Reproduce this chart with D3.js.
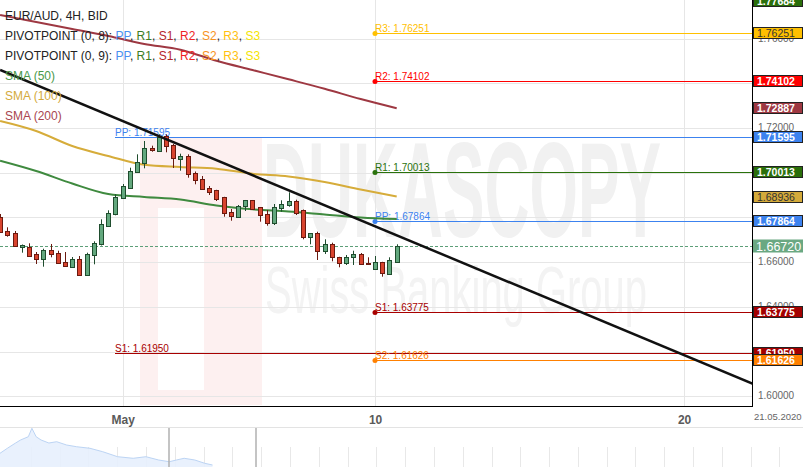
<!DOCTYPE html>
<html><head><meta charset="utf-8">
<script src="https://cdn.jsdelivr.net/npm/d3@7"></script>
<style>
html,body{margin:0;padding:0;background:#fff;overflow:hidden;}
svg{display:block;font-family:"Liberation Sans",Arial,sans-serif;}
</style></head><body>
<svg id="c" width="803" height="467"></svg>
<script>
// ---------- DATA ----------
const candleOpen  = [1.68034,1.67395,1.67292,1.66666,1.66693,1.66367,1.66130,1.66545,1.66398,1.65995,1.65799,1.66143,1.65414,1.66300,1.66800,1.67632,1.68155,1.68857,1.69331,1.70019,1.70422,1.71092,1.70985,1.71656,1.71218,1.70627,1.70735,1.70010,1.69720,1.69304,1.69215,1.68902,1.68231,1.68034,1.68499,1.68767,1.68454,1.68155,1.67739,1.68410,1.68544,1.68723,1.68334,1.67140,1.67292,1.66514,1.66800,1.66219,1.65951,1.66219,1.66367,1.65951,1.65682,1.65995,1.65472,1.66022];
const candleHigh  = [1.68155,1.67560,1.67395,1.66791,1.66845,1.66456,1.66603,1.66814,1.66514,1.66456,1.66232,1.66277,1.66425,1.66934,1.67918,1.68320,1.69036,1.69496,1.70225,1.70824,1.71419,1.71209,1.71718,1.71718,1.71285,1.70851,1.70824,1.70055,1.69854,1.69407,1.69237,1.68924,1.68378,1.68557,1.68781,1.68781,1.68468,1.68334,1.68602,1.68767,1.69125,1.68794,1.68356,1.67305,1.67364,1.67024,1.66872,1.66241,1.66322,1.66514,1.66411,1.66219,1.66277,1.66018,1.66219,1.66800];
const candleLow   = [1.67305,1.67140,1.66702,1.66425,1.66264,1.65919,1.65799,1.66219,1.65929,1.65794,1.65785,1.65392,1.65392,1.65906,1.66747,1.67574,1.68097,1.68826,1.69304,1.69988,1.70198,1.70940,1.70963,1.70914,1.70212,1.70091,1.69778,1.69483,1.69237,1.69004,1.68736,1.68034,1.67855,1.67976,1.68289,1.68365,1.67811,1.67632,1.67663,1.68258,1.68481,1.68110,1.67024,1.66800,1.66098,1.66367,1.66040,1.65772,1.65875,1.65875,1.65884,1.65897,1.65660,1.65352,1.65428,1.66009];
const candleClose = [1.67364,1.67203,1.66724,1.66747,1.66291,1.66130,1.66545,1.66353,1.65951,1.65817,1.66130,1.65414,1.66353,1.66845,1.67708,1.68186,1.68915,1.69393,1.70064,1.70466,1.71092,1.71030,1.71611,1.71195,1.70645,1.70748,1.69957,1.69653,1.69259,1.69152,1.68839,1.68186,1.68066,1.68526,1.68767,1.68392,1.68097,1.67739,1.68454,1.68602,1.68723,1.68222,1.67140,1.67292,1.66514,1.66800,1.66219,1.65951,1.66246,1.66367,1.65906,1.65906,1.66022,1.65504,1.66098,1.66720];

const smaSlots = [0,5,10,15,20,25,30,35,40,45,50,55];
const sma50  = [1.70538,1.70078,1.69519,1.69049,1.68915,1.68803,1.68535,1.68365,1.68267,1.68133,1.67999,1.67932];
const sma100 = [1.72313,1.71866,1.71195,1.70748,1.70355,1.70256,1.70180,1.69952,1.69832,1.69586,1.69250,1.68936];
const sma200 = [1.77052,1.76739,1.76426,1.76113,1.75760,1.75501,1.75009,1.74593,1.74177,1.73753,1.73297,1.72887];

const trendSlots  = [0, 104.4];
const trendValues = [1.74593, 1.60564];

const currentPrice = 1.66720;

const monthlyPivotStart  = 16;
const monthlyPivotNames  = ["PP","S1"];
const monthlyPivotValues = [1.71595, 1.61950];
const monthlyR1 = 1.77684;   // only its axis marker is in view
const weeklyPivotStart   = 52;
const weeklyPivotNames   = ["R3","R2","R1","PP","S1","S2"];
const weeklyPivotValues  = [1.76251, 1.74102, 1.70013, 1.67864, 1.63775, 1.61626];

const xTickSlots  = [17, 52, 94.85];
const xTickLabels = ["May","10","20"];
const yTickValues = [1.60,1.62,1.64,1.66,1.68,1.70,1.72,1.74,1.76,1.78];
const dateLabel = "21.05.2020";

const navT = [0,1.1,2.2,2.9,4,4.5,5.1,5.8,6.9,8,9.4,10.8,12.7,14.5,16.6,18.8,20.6,22.4,23.9,24.9,26,27.5,28.9,30];
const navV = [1.676,1.713,1.748,1.769,1.792,1.851,1.792,1.769,1.748,1.757,1.734,1.722,1.711,1.687,1.652,1.641,1.652,1.629,1.617,1.629,1.641,1.629,1.606,1.594];

// ---------- STYLE ----------
const pivotColor = {R3:"#ffc000",R2:"#ff0000",R1:"#2a720c",PP:"#3c82ef",S1:"#a80000",S2:"#ff8000",S3:"#f2e000"};
const boxStyle = {R3:["#ffc000","#333",false],R2:["#ff0000","#fff",true],R1:["#2a6e0a","#fff",true],PP:["#3c82ef","#fff",true],S1:["#a30000","#fff",true],S2:["#ff8000","#fff",true]};
const smaColors = ["#3f8a3f","#d6ac3a","#9e3842"];

// ---------- CHART ----------
const plotR = 753, plotB = 407;
const svg = d3.select("#c");
const x = d3.scaleLinear().domain([0,55]).range([0.1,396.7]);
const y = d3.scaleLinear().domain([1.60,1.72]).range([396.4,128]);

svg.append("rect").attr("width",803).attr("height",467).attr("fill","#fff");

svg.append("clipPath").attr("id","plotclip").append("rect")
  .attr("x",0).attr("y",0).attr("width",plotR).attr("height",plotB);

// watermark
const wm = svg.append("g").attr("clip-path","url(#plotclip)");
wm.append("rect").attr("x",140).attr("y",137).attr("width",122).attr("height",268).attr("fill","#fdf0f0");
wm.append("rect").attr("x",158).attr("y",208).attr("width",46).attr("height",182).attr("fill","#fff");
wm.append("text").attr("x",263).attr("y",237).attr("font-size",135).attr("font-weight","bold")
  .attr("fill","#f1f1f1").attr("textLength",398).attr("lengthAdjust","spacingAndGlyphs").text("DUKASCOPY");
wm.append("text").attr("x",265).attr("y",313).attr("font-size",67)
  .attr("fill","#f3f3f3").attr("textLength",382).attr("lengthAdjust","spacingAndGlyphs").text("Swiss Banking Group");

// grid
const grid = svg.append("g");
grid.selectAll("line.h").data(yTickValues).join("line")
  .attr("x1",0).attr("x2",plotR).attr("y1",d=>Math.round(y(d))+0.5).attr("y2",d=>Math.round(y(d))+0.5)
  .attr("stroke","#e6e6e6");
grid.selectAll("line.v").data(xTickSlots).join("line")
  .attr("x1",d=>Math.round(x(d))+0.5).attr("x2",d=>Math.round(x(d))+0.5).attr("y1",0).attr("y2",plotB)
  .attr("stroke","#e6e6e6");

const plot = svg.append("g").attr("clip-path","url(#plotclip)");

// pivot lines
function drawPivots(start,names,values,dots){
  names.forEach((n,i)=>{
    const v = values[i], yy = Math.round(y(v))+0.5, x0 = Math.round(x(start));
    plot.append("line").attr("x1",x0).attr("x2",plotR).attr("y1",yy).attr("y2",yy)
      .attr("stroke",pivotColor[n]).attr("stroke-width",1.2);
    plot.append("text").attr("x",x0).attr("y",yy-2).attr("font-size",10)
      .attr("fill",pivotColor[n]).text(n+": "+v.toFixed(5));
    if(dots) plot.append("circle").attr("cx",x0).attr("cy",yy).attr("r",2.5).attr("fill",pivotColor[n]);
  });
}
drawPivots(monthlyPivotStart,monthlyPivotNames,monthlyPivotValues,false);
drawPivots(weeklyPivotStart,weeklyPivotNames,weeklyPivotValues,true);

// current price dashed
plot.append("line").attr("x1",0).attr("x2",plotR)
  .attr("y1",Math.round(y(currentPrice))+0.5).attr("y2",Math.round(y(currentPrice))+0.5)
  .attr("stroke","#5c9f78").attr("stroke-dasharray","3,2");

// SMA lines
const line = d3.line().x(d=>x(d[0])).y(d=>y(d[1])).curve(d3.curveMonotoneX);
[sma50,sma100,sma200].forEach((arr,k)=>{
  plot.append("path").datum(smaSlots.map((s,i)=>[s,arr[i]])).attr("d",line)
    .attr("fill","none").attr("stroke",smaColors[k]).attr("stroke-width",2);
});

// candles
const candles = candleOpen.map((o,i)=>({i,o,h:candleHigh[i],l:candleLow[i],c:candleClose[i]}));
const cg = plot.append("g");
candles.forEach(d=>{
  const up = d.c >= d.o;
  const cx = Math.round(x(d.i))+0.5;
  const stroke = up ? "#1f4d2e" : "#6a1a10";
  const fill = up ? "#63a87e" : "#d8442e";
  cg.append("line").attr("x1",cx).attr("x2",cx).attr("y1",y(d.h)).attr("y2",y(d.l)).attr("stroke",stroke);
  const top = Math.round(y(Math.max(d.o,d.c)))+0.5, bot = Math.round(y(Math.min(d.o,d.c)))+0.5;
  cg.append("rect").attr("x",cx-2).attr("y",top).attr("width",4).attr("height",Math.max(bot-top,1))
    .attr("fill",fill).attr("stroke",stroke);
});

// trendline
plot.append("path").datum(trendSlots.map((s,i)=>[s,trendValues[i]]))
  .attr("d",d3.line().x(d=>x(d[0])).y(d=>y(d[1])))
  .attr("stroke","#111").attr("stroke-width",2.5).attr("fill","none");

// right value boxes (data)
const boxes = [];
boxes.push({v:monthlyR1,bg:boxStyle.R1[0],fg:"#fff",b:true});
weeklyPivotNames.forEach((n,i)=>{ if(n==="S1"||n==="S2") return; const s=boxStyle[n]; boxes.push({v:weeklyPivotValues[i],bg:s[0],fg:s[1],b:s[2]}); });
boxes.push({v:sma200[sma200.length-1],bg:"#9e3842",fg:"#fff",b:true});
boxes.push({v:monthlyPivotValues[0],bg:boxStyle.PP[0],fg:"#fff",b:true});
boxes.push({v:sma100[sma100.length-1],bg:"#d4aa3a",fg:"#333",b:false});
boxes.push({v:weeklyPivotValues[4],bg:boxStyle.S1[0],fg:"#fff",b:true});
boxes.push({v:monthlyPivotValues[1],bg:boxStyle.S1[0],fg:"#fff",b:true});
boxes.push({v:weeklyPivotValues[5],bg:boxStyle.S2[0],fg:"#fff",b:true});

// right axis ticks (labels hidden where a marker sits on top)
const shownTicks = yTickValues.filter(t=>boxes.every(b=>Math.abs(y(b.v)-y(t))>4.5));
const yAxis = d3.axisRight(y).tickValues(shownTicks).tickFormat(d3.format(".5f")).tickSize(0).tickPadding(5);
const ya = svg.append("g").attr("transform",`translate(${plotR},0)`).call(yAxis);
ya.select(".domain").remove();
ya.selectAll("text").attr("font-size",10).attr("fill","#666").attr("font-family","Liberation Sans, Arial, sans-serif").attr("dy","0.25em");

// bottom axis
const xAxis = d3.axisBottom(x).tickValues(xTickSlots).tickFormat((d,i)=>xTickLabels[i]).tickSize(0).tickPadding(8);
const xa = svg.append("g").attr("transform",`translate(0,${plotB})`).call(xAxis);
xa.select(".domain").remove();
xa.selectAll("text").attr("font-size",12).attr("font-weight","bold").attr("fill","#5a5a5a").attr("font-family","Liberation Sans, Arial, sans-serif");
svg.append("text").attr("x",754).attr("y",420).attr("font-size",9.5).attr("fill","#666").text(dateLabel);

// borders
svg.append("line").attr("x1",plotR-0.5).attr("x2",plotR-0.5).attr("y1",0).attr("y2",plotB).attr("stroke","#000");
svg.append("line").attr("x1",0).attr("x2",plotR).attr("y1",plotB-0.5).attr("y2",plotB-0.5).attr("stroke","#000");

const bx = svg.append("g");
boxes.forEach(d=>{
  const yy = Math.round(y(d.v));
  bx.append("rect").attr("x",plotR+0.5).attr("y",yy-5.5).attr("width",49).attr("height",11)
    .attr("fill",d.bg).attr("stroke","#222");
  bx.append("text").attr("x",plotR+4).attr("y",yy+4).attr("font-size",10.5)
    .attr("font-weight",d.b?"bold":"normal").attr("fill",d.fg).text(d.v.toFixed(5));
});
// current price box
const cy = Math.round(y(currentPrice));
bx.append("rect").attr("x",plotR).attr("y",cy-6.5).attr("width",50).attr("height",13).attr("fill","#6aa882");
bx.append("text").attr("x",plotR+3).attr("y",cy+4.5).attr("font-size",12.5).attr("fill","#fff").text(currentPrice.toFixed(5));

// legend
const lg = svg.append("g").attr("font-size",12);
lg.append("text").attr("x",5).attr("y",20).attr("fill","#222").text("EUR/AUD, 4H, BID");
const legendPivot = [["PP","#4a8ff0"],["R1","#3c7d22"],["S1","#b5252a"],["R2","#ee2424"],["S2","#f7931e"],["R3","#ffc10e"],["S3","#f5e400"]];
["PIVOTPOINT (0, 8): ","PIVOTPOINT (0, 9): "].forEach((lab,k)=>{
  const t = lg.append("text").attr("x",5).attr("y",39.5+k*20).attr("fill","#222");
  t.append("tspan").text(lab);
  legendPivot.forEach((p,i)=>{
    t.append("tspan").attr("fill",p[1]).text(p[0]);
    if(i<legendPivot.length-1) t.append("tspan").attr("fill","#222").text(", ");
  });
});
[["SMA (50)","#4a994a"],["SMA (100)","#d4aa3c"],["SMA (200)","#a8464f"]].forEach((s,i)=>{
  lg.append("text").attr("x",5).attr("y",80+i*20).attr("fill",s[1]).text(s[0]);
});

// navigator
svg.append("line").attr("x1",0).attr("x2",803).attr("y1",427.5).attr("y2",427.5).attr("stroke","#e3e3e3");
const nx = d3.scaleLinear().domain([0,30]).range([0,212.5]);
const ny = d3.scaleLinear().domain([1.58,1.86]).range([467,427]);
const navG = svg.append("g");
for(let xx=30.7; xx<790; xx+=28.8){
  navG.append("line").attr("x1",Math.round(xx)+0.5).attr("x2",Math.round(xx)+0.5).attr("y1",447).attr("y2",467).attr("stroke","#e8e8e8");
}
navG.append("path").datum(navT.map((t,i)=>[t,navV[i]]))
  .attr("d",d3.area().x(d=>nx(d[0])).y0(467).y1(d=>ny(d[1])))
  .attr("fill","#e7f0fd").attr("fill-opacity",0.9);
navG.append("path").datum(navT.map((t,i)=>[t,navV[i]]))
  .attr("d",d3.line().x(d=>nx(d[0])).y(d=>ny(d[1])))
  .attr("fill","none").attr("stroke","#bcd4f4");
[169,256].forEach(xx=>navG.append("line").attr("x1",xx).attr("x2",xx).attr("y1",428).attr("y2",467).attr("stroke","#b0b0b0").attr("stroke-width",1.5));
</script>
</body></html>
